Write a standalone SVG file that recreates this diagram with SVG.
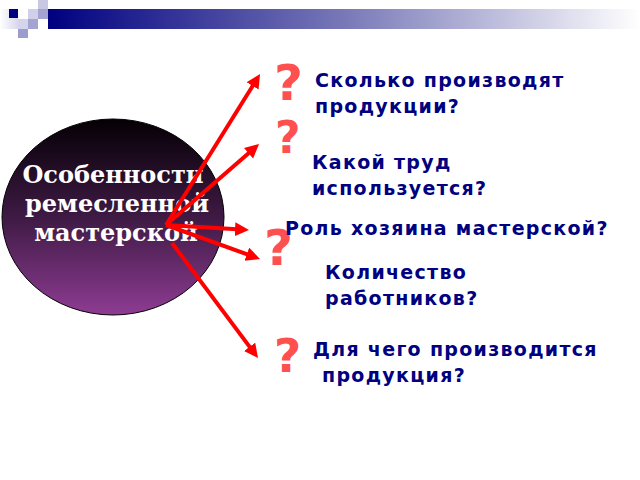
<svg xmlns="http://www.w3.org/2000/svg" width="640" height="480" viewBox="0 0 640 480">
<defs>
<linearGradient id="bar" x1="0" y1="0" x2="1" y2="0">
<stop offset="0" stop-color="#000080"/>
<stop offset="0.5" stop-color="#7878b8"/>
<stop offset="1" stop-color="#ffffff"/>
</linearGradient>
<linearGradient id="fade" x1="0" y1="0" x2="1" y2="0">
<stop offset="0" stop-color="#ffffff"/>
<stop offset="1" stop-color="#d8d8ec"/>
</linearGradient>
<linearGradient id="ell" x1="0" y1="0" x2="0" y2="1">
<stop offset="0" stop-color="#050005"/>
<stop offset="0.5" stop-color="#3e1a44"/>
<stop offset="1" stop-color="#8e3c92"/>
</linearGradient>
<marker id="ah" markerUnits="userSpaceOnUse" markerWidth="15" markerHeight="15" refX="2" refY="7" orient="auto">
<path d="M0,0 L14,7 L0,14 z" fill="#ff0000"/>
</marker>
<style>
.q{font-family:"DejaVu Sans",sans-serif;font-weight:bold;fill:#ff5050}
.lbl{font-family:"DejaVu Sans",sans-serif;font-weight:bold;font-size:19px;fill:#000080;letter-spacing:1.3px}
.ctr{font-family:"DejaVu Serif",serif;font-weight:bold;font-size:24px;fill:#ffffff;text-anchor:middle}
.arr{stroke:#ff0000;stroke-width:4;fill:none;marker-end:url(#ah)}
</style>
</defs>
<g id="banner">
<rect x="0" y="9" width="18" height="20" fill="url(#fade)"/>
<rect x="48" y="9" width="592" height="20" fill="url(#bar)"/>
<rect x="9" y="9" width="9" height="9" fill="#000080"/>
<rect x="38" y="0" width="10" height="9" fill="#c8c8e4"/>
<rect x="28" y="9" width="10" height="10" fill="#d0d0ea"/>
<rect x="38" y="9" width="10" height="10" fill="#a4a4d2"/>
<rect x="18" y="19" width="10" height="10" fill="#d4d4ec"/>
<rect x="28" y="19" width="10" height="10" fill="#a4a4d2"/>
<rect x="18" y="29" width="10" height="9" fill="#9c9cce"/>
</g>
<g id="center">
<ellipse cx="113" cy="217" rx="111" ry="98" fill="url(#ell)" stroke="#000000" stroke-width="1"/>
<text class="ctr" x="113" y="183">Особенности</text>
<text class="ctr" x="117" y="212">ремесленной</text>
<text class="ctr" x="116" y="241">мастерской</text>
</g>
<g id="connectors">
<line class="arr" x1="166" y1="225" x2="253.7" y2="84.2"/>
<line class="arr" x1="166" y1="225" x2="250" y2="151.9"/>
<line class="arr" x1="166" y1="225" x2="237" y2="229.3"/>
<line class="arr" x1="166" y1="225" x2="248.7" y2="254.9"/>
<line class="arr" x1="172" y1="243" x2="250.8" y2="348.4"/>
</g>
<g id="q1">
<text class="q" x="274" y="100" font-size="50">?</text>
<text class="lbl" x="315" y="87">Сколько производят</text>
<text class="lbl" x="315" y="113">продукции?</text>
</g>
<g id="q2">
<text class="q" x="275" y="153" font-size="44">?</text>
<text class="lbl" x="312" y="169">Какой труд</text>
<text class="lbl" x="312" y="195">используется?</text>
</g>
<g id="q3">
<text class="q" x="264" y="265" font-size="50">?</text>
<text class="lbl" x="285" y="235">Роль хозяина мастерской?</text>
</g>
<g id="q4">
<text class="lbl" x="325" y="279">Количество</text>
<text class="lbl" x="325" y="305">работников?</text>
</g>
<g id="q5">
<text class="q" x="274" y="372" font-size="47">?</text>
<text class="lbl" x="313" y="356">Для чего производится</text>
<text class="lbl" x="322" y="382">продукция?</text>
</g>
</svg>
